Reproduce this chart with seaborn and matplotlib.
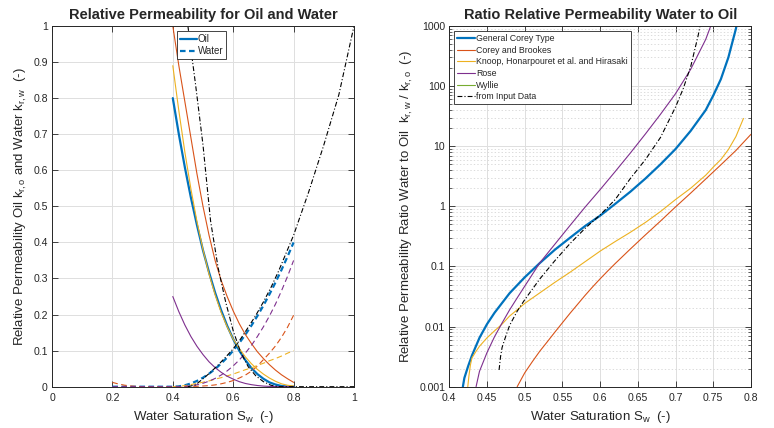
import matplotlib
matplotlib.use("Agg")
import matplotlib.pyplot as plt
import seaborn as sns
import pandas as pd
from matplotlib.lines import Line2D
from matplotlib.ticker import FixedLocator, FixedFormatter, LogLocator, NullFormatter

# ---------------- data ----------------
sw_oil = [0.40, 0.42, 0.44, 0.46, 0.48, 0.50, 0.52, 0.54, 0.56, 0.58, 0.60,
          0.62, 0.64, 0.66, 0.68, 0.70, 0.72, 0.74, 0.76, 0.78, 0.80]
sw_water = [0.20, 0.22, 0.24, 0.26, 0.28, 0.30, 0.32, 0.34, 0.36, 0.38, 0.40,
            0.42, 0.44, 0.46, 0.48, 0.50, 0.52, 0.54, 0.56, 0.58, 0.60,
            0.62, 0.64, 0.66, 0.68, 0.70, 0.72, 0.74, 0.76, 0.78, 0.80]

corey_kro = [0.800, 0.700, 0.608, 0.524, 0.448, 0.378, 0.317, 0.261, 0.212, 0.169, 0.132,
             0.100, 0.074, 0.052, 0.035, 0.022, 0.012, 0.006, 0.002, 0.0003, 0.0]
corey_krw = [0.0, 0.0, 0.0, 0.0, 0.0, 0.0, 0.0, 0.0, 0.0, 0.0, 0.0,
             0.001, 0.004, 0.009, 0.016, 0.025, 0.036, 0.049, 0.064, 0.081, 0.100,
             0.121, 0.144, 0.169, 0.196, 0.225, 0.256, 0.289, 0.324, 0.361, 0.400]

brookes_kro = [1.00, 0.89, 0.79, 0.69, 0.59, 0.50, 0.42, 0.35, 0.295, 0.25, 0.21,
               0.175, 0.145, 0.12, 0.097, 0.078, 0.061, 0.046, 0.033, 0.022, 0.012]
brookes_krw = [0.012, 0.0075, 0.0042, 0.002, 0.0008, 0.0002, 0.0, 0.0, 0.0, 0.0, 0.0001,
               0.0002, 0.0004, 0.0007, 0.0012, 0.002, 0.003, 0.005, 0.008, 0.012, 0.017,
               0.024, 0.032, 0.043, 0.057, 0.075, 0.093, 0.113, 0.137, 0.165, 0.198]

knoop_kro = [0.89, 0.765, 0.650, 0.548, 0.458, 0.380, 0.312, 0.255, 0.206, 0.166, 0.132,
             0.106, 0.083, 0.064, 0.048, 0.035, 0.024, 0.015, 0.008, 0.004, 0.002]
knoop_krw = [0.0, 0.001, 0.003, 0.006, 0.009, 0.0125, 0.016, 0.021, 0.025, 0.030, 0.035,
             0.041, 0.047, 0.052, 0.059, 0.065, 0.072, 0.078, 0.085, 0.093, 0.100]

rose_kro = [0.25, 0.208, 0.171, 0.139, 0.112, 0.089, 0.069, 0.053, 0.040, 0.029, 0.021,
            0.014, 0.009, 0.0057, 0.0033, 0.0017, 0.0008, 0.0003, 0.0001, 0.0, 0.0]
rose_krw = [0.0, 0.0, 0.0, 0.0, 0.0, 0.0, 0.0, 0.0, 0.0, 0.0, 0.0,
            0.0001, 0.0009, 0.0025, 0.0053, 0.0095, 0.0153, 0.0229, 0.0323, 0.0438, 0.0577,
            0.074, 0.093, 0.114, 0.139, 0.166, 0.196, 0.229, 0.266, 0.306, 0.35]

wyllie_sw = []
wyllie_kr = []

sw_data = [0.45, 0.475, 0.50, 0.525, 0.55, 0.575, 0.60, 0.625, 0.65, 0.675, 0.70,
           0.725, 0.75, 0.80, 0.85, 0.90, 0.95, 1.00]
data_kro = [1.0, 0.84, 0.67, 0.46, 0.33, 0.235, 0.155, 0.095, 0.055, 0.03, 0.014,
            0.004, 0.0, 0.0, 0.0, 0.0, 0.0, 0.0]
data_krw = [0.0, 0.005, 0.022, 0.04, 0.06, 0.082, 0.105, 0.133, 0.165, 0.198, 0.235,
            0.275, 0.32, 0.42, 0.54, 0.67, 0.81, 1.0]

# ratio k_rw / k_ro
corey_ratio_sw = [0.418, 0.42, 0.425, 0.43, 0.44, 0.45, 0.46, 0.48, 0.50, 0.52, 0.54, 0.56,
                  0.58, 0.60, 0.62, 0.64, 0.66, 0.68, 0.70, 0.72, 0.74, 0.75, 0.76, 0.77,
                  0.78, 0.785]
corey_ratio = [0.001, 0.0014, 0.0022, 0.0033, 0.0065, 0.011, 0.017, 0.036, 0.066, 0.114,
               0.19, 0.30, 0.47, 0.70, 1.1, 1.75, 2.9, 5.0, 9.0, 18, 40, 70, 130, 300,
               900, 2000]
brookes_ratio_sw = [0.49, 0.50, 0.51, 0.52, 0.53, 0.54, 0.55, 0.56, 0.57, 0.58, 0.59,
                    0.60, 0.61, 0.62, 0.64, 0.66, 0.68, 0.70, 0.72, 0.74, 0.76, 0.78, 0.80]
brookes_ratio = [0.001, 0.0017, 0.0026, 0.0039, 0.0056, 0.0081, 0.0116, 0.0166, 0.0234,
                 0.033, 0.0457, 0.0624, 0.084, 0.112, 0.195, 0.335, 0.569, 0.98, 1.66,
                 2.85, 4.9, 8.5, 15.8]
knoop_ratio_sw = [0.4245, 0.426, 0.428, 0.43, 0.435, 0.44, 0.45, 0.46, 0.47, 0.48, 0.49,
                  0.50, 0.52, 0.54, 0.56, 0.58, 0.60, 0.62, 0.64, 0.66, 0.68, 0.70, 0.72,
                  0.74, 0.75, 0.76, 0.77, 0.78, 0.79]
knoop_ratio = [0.001, 0.0015, 0.0023, 0.003, 0.0038, 0.0047, 0.0065, 0.0085, 0.011, 0.015,
               0.019, 0.0243, 0.0364, 0.0545, 0.08, 0.12, 0.18, 0.26, 0.37, 0.54, 0.82,
               1.3, 2.0, 3.3, 4.5, 6.0, 8.8, 14.5, 29]
rose_ratio_sw = [0.4355, 0.44, 0.45, 0.46, 0.47, 0.48, 0.49, 0.50, 0.52, 0.54, 0.56, 0.58,
                 0.60, 0.62, 0.64, 0.66, 0.68, 0.70, 0.72, 0.74, 0.75]
rose_ratio = [0.001, 0.0018, 0.0037, 0.0068, 0.0115, 0.019, 0.03, 0.047, 0.115, 0.235,
              0.48, 0.97, 1.9, 3.8, 7.7, 16, 34, 75, 190, 600, 1300]
wyllie_ratio_sw = []
wyllie_ratio = []
data_ratio_sw = [0.466, 0.468, 0.47, 0.475, 0.48, 0.49, 0.50, 0.52, 0.54, 0.56, 0.58, 0.60,
                 0.62, 0.64, 0.66, 0.68, 0.70, 0.71, 0.72, 0.73, 0.735]
data_ratio = [0.0019, 0.0032, 0.0045, 0.007, 0.0105, 0.018, 0.028, 0.062, 0.125, 0.24,
              0.43, 0.72, 1.3, 2.9, 6.0, 14, 45, 90, 210, 700, 1500]

model_names = ["General Corey Type", "Corey and Brookes",
               "Knoop, Honarpouret et al. and Hirasaki", "Rose", "Wyllie",
               "from Input Data"]
x_ticks_left = [0, 0.2, 0.4, 0.6, 0.8, 1]
x_labels_left = ["0", "0.2", "0.4", "0.6", "0.8", "1"]
y_ticks_left = [0, 0.1, 0.2, 0.3, 0.4, 0.5, 0.6, 0.7, 0.8, 0.9, 1]
y_labels_left = ["0", "0.1", "0.2", "0.3", "0.4", "0.5", "0.6", "0.7", "0.8", "0.9", "1"]
x_ticks_right = [0.4, 0.45, 0.5, 0.55, 0.6, 0.65, 0.7, 0.75, 0.8]
x_labels_right = ["0.4", "0.45", "0.5", "0.55", "0.6", "0.65", "0.7", "0.75", "0.8"]
y_ticks_right = [0.001, 0.01, 0.1, 1, 10, 100, 1000]
y_labels_right = ["0.001", "0.01", "0.1", "1", "10", "100", "1000"]

# ---------------- style ----------------
sns.set_theme(style="white")
plt.rcParams['font.family'] = ['Liberation Sans', 'DejaVu Sans']
plt.rcParams['mathtext.fontset'] = 'custom'
plt.rcParams['mathtext.rm'] = 'Liberation Sans'
plt.rcParams['mathtext.it'] = 'Liberation Sans'
plt.rcParams['mathtext.bf'] = 'Liberation Sans:bold'
plt.rcParams['lines.scale_dashes'] = False

C_BLUE = "#0072BD"
C_ORANGE = "#D95319"
C_YELLOW = "#EDB120"
C_PURPLE = "#7E2F8E"
C_GREEN = "#77AC30"
C_BLACK = "#000000"
AX_COL = "#262626"
GRID_COL = "#dfdfdf"

LW_THICK = 1.6
LW_THIN = 0.8
DASH = (0, (4.0, 2.5))
DASHDOT = (0, (3.5, 1.5, 0.8, 1.5))

fig = plt.figure(figsize=(7.74, 4.28), dpi=100)
ax1 = fig.add_axes([52 / 774, 41.3 / 428, 302 / 774, 360.7 / 428])
ax2 = fig.add_axes([449.3 / 774, 41.3 / 428, 301.7 / 774, 360.7 / 428])


def line(ax, x, y, color, lw, ls):
    if len(x) == 0:
        ax.plot(x, y, color=color, lw=lw, ls=ls)
        return
    df = pd.DataFrame({"x": x, "y": y})
    sns.lineplot(data=df, x="x", y="y", ax=ax, color=color, lw=lw, linestyle=ls,
                 estimator=None, sort=False, legend=False)


# ---------------- left: relative permeability ----------------
line(ax1, sw_oil, corey_kro, C_BLUE, LW_THICK, "-")
line(ax1, sw_water, corey_krw, C_BLUE, LW_THICK, DASH)
line(ax1, sw_oil, brookes_kro, C_ORANGE, LW_THIN, "-")
line(ax1, sw_water, brookes_krw, C_ORANGE, LW_THIN, DASH)
line(ax1, sw_oil, knoop_kro, C_YELLOW, LW_THIN, "-")
line(ax1, sw_oil, knoop_krw, C_YELLOW, LW_THIN, DASH)
line(ax1, sw_oil, rose_kro, C_PURPLE, LW_THIN, "-")
line(ax1, sw_water, rose_krw, C_PURPLE, LW_THIN, DASH)
line(ax1, wyllie_sw, wyllie_kr, C_GREEN, LW_THIN, "-")
line(ax1, sw_data, data_kro, C_BLACK, LW_THIN, DASHDOT)
line(ax1, sw_data, data_krw, C_BLACK, LW_THIN, DASHDOT)

ax1.set_xlim(0, 1)
ax1.set_ylim(0, 1)
ax1.xaxis.set_major_locator(FixedLocator(x_ticks_left))
ax1.xaxis.set_major_formatter(FixedFormatter(x_labels_left))
ax1.yaxis.set_major_locator(FixedLocator(y_ticks_left))
ax1.yaxis.set_major_formatter(FixedFormatter(y_labels_left))
ax1.set_title("Relative Permeability for Oil and Water", fontsize=10.5,
              fontweight="bold", pad=5)
ax1.set_xlabel("Water Saturation S$_w$  (-)", fontsize=9.5, color=AX_COL, labelpad=4)
ax1.set_ylabel("Relative Permeability Oil k$_{r,o}$ and Water k$_{r,w}$  (-)",
               fontsize=9.5, color=AX_COL, labelpad=3)
leg1 = ax1.legend([Line2D([], [], color=C_BLUE, lw=LW_THICK),
                   Line2D([], [], color=C_BLUE, lw=LW_THICK, ls=DASH)],
                  ["Oil", "Water"], loc="upper left", bbox_to_anchor=(0.413, 0.986),
                  fontsize=7, frameon=True, fancybox=False, framealpha=1,
                  edgecolor=AX_COL, handlelength=1.8, handletextpad=0.05,
                  borderpad=0.3, labelspacing=0.2, borderaxespad=0)
leg1.get_frame().set_linewidth(0.6)

# ---------------- right: ratio ----------------
line(ax2, corey_ratio_sw, corey_ratio, C_BLUE, LW_THICK, "-")
line(ax2, brookes_ratio_sw, brookes_ratio, C_ORANGE, LW_THIN, "-")
line(ax2, knoop_ratio_sw, knoop_ratio, C_YELLOW, LW_THIN, "-")
line(ax2, rose_ratio_sw, rose_ratio, C_PURPLE, LW_THIN, "-")
line(ax2, wyllie_ratio_sw, wyllie_ratio, C_GREEN, LW_THIN, "-")
line(ax2, data_ratio_sw, data_ratio, C_BLACK, LW_THIN, DASHDOT)

ax2.set_yscale("log")
ax2.set_xlim(0.4, 0.8)
ax2.set_ylim(0.001, 1000)
ax2.xaxis.set_major_locator(FixedLocator(x_ticks_right))
ax2.xaxis.set_major_formatter(FixedFormatter(x_labels_right))
ax2.yaxis.set_major_locator(FixedLocator(y_ticks_right))
ax2.yaxis.set_major_formatter(FixedFormatter(y_labels_right))
ax2.yaxis.set_minor_locator(LogLocator(base=10, subs=range(2, 10), numticks=20))
ax2.yaxis.set_minor_formatter(NullFormatter())
ax2.set_title("Ratio Relative Permeability Water to Oil", fontsize=10.5,
              fontweight="bold", pad=5)
ax2.set_xlabel("Water Saturation S$_w$  (-)", fontsize=9.5, color=AX_COL, labelpad=4)
ax2.set_ylabel("Relative Permeability Ratio Water to Oil  k$_{r,w}$ / k$_{r,o}$  (-)",
               fontsize=9.5, color=AX_COL, labelpad=3)
handles2 = [Line2D([], [], color=C_BLUE, lw=LW_THICK),
            Line2D([], [], color=C_ORANGE, lw=LW_THIN),
            Line2D([], [], color=C_YELLOW, lw=LW_THIN),
            Line2D([], [], color=C_PURPLE, lw=LW_THIN),
            Line2D([], [], color=C_GREEN, lw=LW_THIN),
            Line2D([], [], color=C_BLACK, lw=LW_THIN, ls=DASHDOT)]
leg2 = ax2.legend(handles2, model_names, loc="upper left", bbox_to_anchor=(0.0156, 0.986),
                  fontsize=6.3, frameon=True, fancybox=False, framealpha=1,
                  edgecolor=AX_COL, handlelength=2.1, handletextpad=0.05,
                  borderpad=0.35, labelspacing=0.3, borderaxespad=0)
leg2.get_frame().set_linewidth(0.6)

for ax in (ax1, ax2):
    ax.grid(True, which="major", color=GRID_COL, lw=0.7, ls="-")
    ax.set_axisbelow(True)
    for s in ax.spines.values():
        s.set_visible(True)
        s.set_color(AX_COL)
        s.set_linewidth(0.7)
    ax.tick_params(axis="both", which="major", direction="in", length=4, width=0.6,
                   color=AX_COL, labelcolor=AX_COL, labelsize=7.6, pad=3,
                   top=True, right=True, bottom=True, left=True)
    ax.tick_params(axis="x", which="major", pad=4.5)
    ax.tick_params(axis="both", which="minor", direction="in", length=2, width=0.5,
                   color=AX_COL, top=True, right=True, left=True, bottom=False)
ax2.grid(True, which="minor", axis="y", color="#d6d6d6", lw=0.6, ls=(0, (1, 1.5)))

fig.savefig("out.png", dpi=100)
